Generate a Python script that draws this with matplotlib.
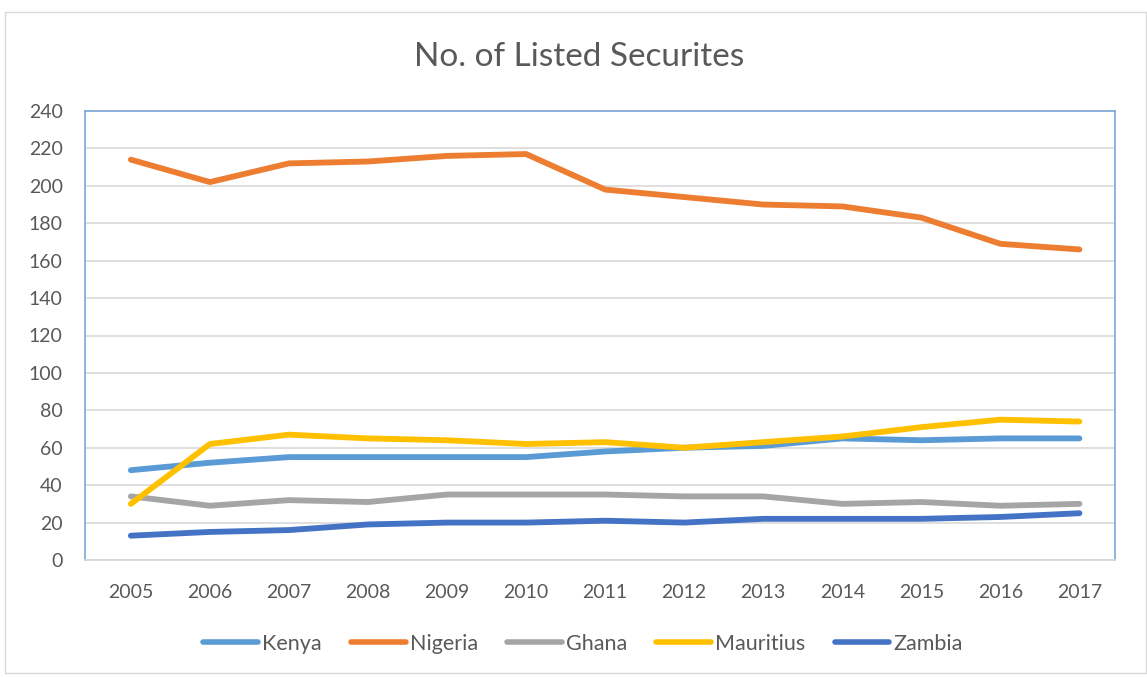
import matplotlib
matplotlib.use("Agg")
import matplotlib.pyplot as plt
from matplotlib.patches import Rectangle

years = ["2005", "2006", "2007", "2008", "2009", "2010", "2011",
         "2012", "2013", "2014", "2015", "2016", "2017"]
kenya = [48, 52, 55, 55, 55, 55, 58, 60, 61, 65, 64, 65, 65]
nigeria = [214, 202, 212, 213, 216, 217, 198, 194, 190, 189, 183, 169, 166]
ghana = [34, 29, 32, 31, 35, 35, 35, 34, 34, 30, 31, 29, 30]
mauritius = [30, 62, 67, 65, 64, 62, 63, 60, 63, 66, 71, 75, 74]
zambia = [13, 15, 16, 19, 20, 20, 21, 20, 22, 22, 22, 23, 25]

series = [("Kenya", kenya, "#5B9BD5"),
          ("Nigeria", nigeria, "#ED7D31"),
          ("Ghana", ghana, "#A5A5A5"),
          ("Mauritius", mauritius, "#FFC000"),
          ("Zambia", zambia, "#4472C4")]

plt.rcParams['font.family'] = ['Lato', 'DejaVu Sans']
txt = "#595959"

fig = plt.figure(figsize=(11.47, 6.77), dpi=100)
fig.patches.append(Rectangle((5/1147, 4/677), 1 - 6/1147, 1 - 16/677,
                             transform=fig.transFigure, fill=False,
                             edgecolor="#D9D9D9", linewidth=1))
ax = fig.add_axes([85/1147, 117/677, 1030/1147, 449/677])

x = list(range(len(years)))
for name, vals, col in series:
    ax.plot(x, vals, color=col, linewidth=4.2, label=name,
            solid_capstyle="round", solid_joinstyle="round", zorder=3)

ax.set_ylim(0, 240)
ax.set_yticks(range(0, 241, 20))
ax.set_xlim(-0.58, 12.45)
ax.set_xticks(x)
ax.set_xticklabels(years)
ax.grid(axis="y", color="#D9D9D9", linewidth=1.2, zorder=0)
ax.tick_params(axis="both", length=0, labelsize=14, colors=txt)
ax.tick_params(axis="x", pad=17)
ax.tick_params(axis="y", pad=16)
for s in ["left", "top", "right"]:
    ax.spines[s].set_color("#7EA6D8")
    ax.spines[s].set_linewidth(1.2)
ax.spines["bottom"].set_color("#D0D7DE")
ax.spines["bottom"].set_linewidth(1.2)

fig.text(0.505, 1 - 57/677, "No. of Listed Securites", ha="center", va="center",
         fontsize=24, color=txt)

leg = fig.legend(loc="center", bbox_to_anchor=(583/1147, 1 - 644/677), ncol=5,
                 frameon=False, fontsize=15.5, handlelength=2.55,
                 handletextpad=0.19, columnspacing=1.35)
for t in leg.get_texts():
    t.set_color(txt)
for h in leg.get_lines():
    h.set_linewidth(4)

fig.savefig("out.png", dpi=100)
